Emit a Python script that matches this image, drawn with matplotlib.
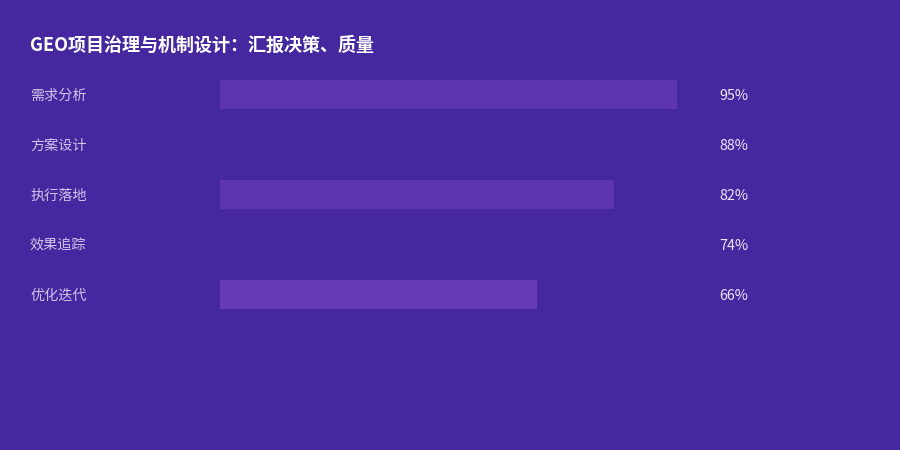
import matplotlib
matplotlib.use('Agg')
import matplotlib.pyplot as plt
import matplotlib.transforms as mtransforms

plt.rcParams['font.family'] = ['Noto Sans CJK SC', 'DejaVu Sans']

# 数据
categories = ['需求分析', '方案设计', '执行落地', '效果追踪', '优化迭代']
values = [95, 88, 82, 74, 66]
bar_colors = ['#5E35B1', '#4527A0', '#5E35B1', '#4527A0', '#673AB7']
title = 'GEO项目治理与机制设计：汇报决策、质量'

bg = '#4527A0'

fig = plt.figure(figsize=(9, 4.5), dpi=100, facecolor=bg)
# 轨道 220px -> 701px，行中心 94.5px 起每 50px 一行
ax = fig.add_axes([220 / 900, 1 - 319.5 / 450, 481 / 900, 250 / 450])
ax.set_facecolor(bg)

ypos = list(range(len(categories)))
ax.barh(ypos, values, height=0.58, color=bar_colors, left=0)
ax.set_xlim(0, 100)
ax.set_ylim(len(categories) - 0.5, -0.5)
ax.axis('off')

trans = mtransforms.blended_transform_factory(fig.transFigure, ax.transData)
for i, (cat, v) in enumerate(zip(categories, values)):
    fig.text(30 / 900, i + 0.03, cat, transform=trans, ha='left', va='center',
             fontsize=10.2, color='#D1C4E9')
    fig.text(719 / 900, i + 0.03, f'{v}%', transform=trans, ha='left', va='center',
             fontsize=10.3, color='#EDE7F6')

fig.text(30 / 900, 1 - 45 / 450, title, ha='left', va='center',
         fontsize=13, fontweight='bold', color='white')

fig.savefig('out.png', dpi=100, facecolor=bg)
